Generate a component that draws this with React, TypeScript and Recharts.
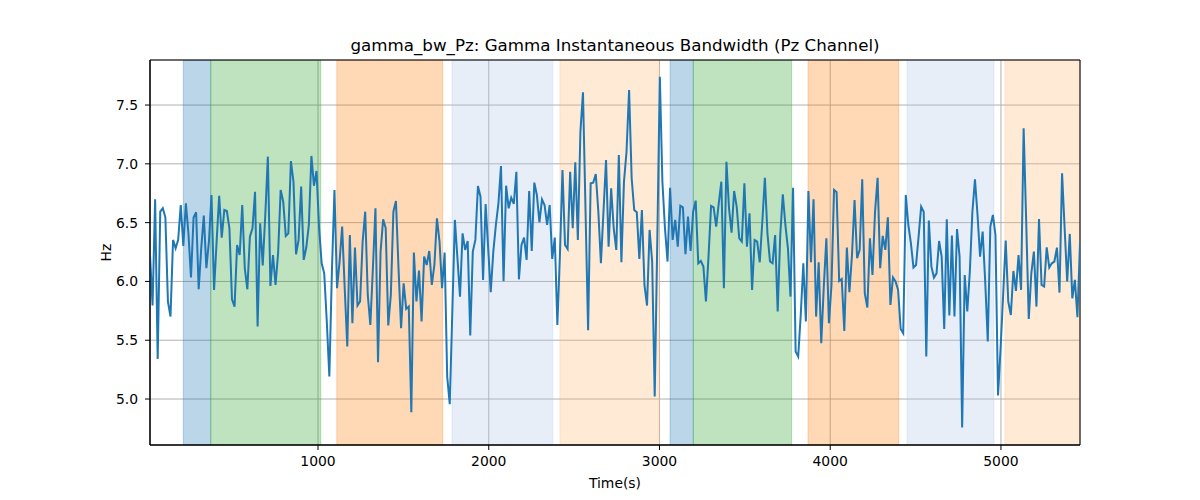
import {
  ComposedChart,
  Line,
  XAxis,
  YAxis,
  CartesianGrid,
  ReferenceArea,
} from "recharts";

// sampling grid of the trace (seconds)
const TIME_START = 16;
const TIME_END = 5463;

// gamma instantaneous bandwidth, Pz channel (Hz)
const bandwidthHz = [
  6.225, 5.795, 6.698, 5.341, 6.593, 6.622, 6.545, 5.829, 5.701, 6.353,
  6.282, 6.353, 6.65, 6.302, 6.664, 6.409, 6.033, 6.543, 6.588, 5.933,
  6.282, 6.56, 6.112, 6.339, 6.735, 5.928, 6.339, 6.729, 6.373, 6.608,
  6.599, 6.452, 5.848, 5.786, 6.31, 6.225, 6.65, 6.112, 5.933, 6.381,
  6.452, 6.763, 5.616, 6.494, 6.135, 6.565, 7.061, 5.962, 6.225, 5.97,
  6.239, 6.778, 6.678, 6.387, 6.409, 7.024, 6.848, 6.231, 6.353, 6.806,
  6.183,
  6.288, 6.48, 7.067, 6.814, 6.939, 6.452, 6.154, 6.069, 5.659, 5.191,
  6.084, 6.778, 5.942, 6.169, 6.466, 5.942, 5.446, 6.395, 5.644, 6.288,
  5.795, 5.829, 6.339, 6.593, 5.885, 5.63, 6.112, 6.622, 5.313, 6.254,
  6.528, 6.452, 5.625, 5.885, 6.593, 6.684, 6.112, 5.602, 5.984, 5.766,
  5.786, 4.888, 6.245, 5.829, 6.092, 5.659, 6.211, 6.14, 6.259, 5.97,
  6.14, 6.537, 6.339, 5.942, 6.245, 5.191, 4.956, 5.744, 6.523, 6.197,
  5.871,
  6.409, 6.268, 6.344, 5.54, 6.254, 6.353, 6.812, 6.721, 6.013, 6.659,
  6.28, 5.908, 6.254, 6.48, 6.664, 6.982, 6.001, 6.814, 6.622, 6.712,
  6.659, 6.933, 6.018, 6.31, 6.373, 6.183, 6.769, 6.259, 6.84, 6.735,
  6.503, 6.698, 6.65, 6.48, 6.65, 6.191, 6.373, 5.63, 6.225, 6.948,
  6.31, 6.276, 6.933, 6.452, 7.013, 6.353, 7.273, 7.608, 6.6, 5.585,
  6.834, 6.84, 6.914, 6.593, 6.154, 6.593, 7.033, 6.296, 6.792, 6.45,
  6.268, 7.075, 6.163, 6.848, 7.103, 7.627, 6.877, 6.608, 6.588, 6.191,
  6.608, 5.97, 5.795, 6.438, 6.169, 5.021, 6.339, 7.741, 6.848, 6.452,
  6.169, 6.797, 6.353, 6.523, 6.296, 6.644, 6.63, 6.231, 6.551, 6.259,
  6.593, 6.687, 6.154, 6.174, 6.126, 5.829, 6.211, 6.642, 6.63, 6.466,
  6.664, 6.848, 5.942, 7.018, 6.622, 6.415, 6.769, 6.636, 6.367, 6.339,
  6.834, 6.296, 6.579, 5.928, 6.353, 6.339, 6.163, 6.508, 6.882, 6.409,
  6.169,
  6.154, 6.395, 5.744, 6.395, 6.741, 6.48, 6.282, 5.871, 6.797, 5.404,
  5.361, 5.715, 6.154, 5.659, 6.769, 6.163, 6.698, 5.701, 6.163, 5.475,
  5.956, 6.367, 5.644, 5.97, 6.778, 6.758, 6.004, 6.021, 5.579, 6.288,
  5.908, 6.225, 6.693, 6.197, 6.268, 6.868, 5.899, 5.778, 6.367, 6.055,
  6.593, 6.882, 6.112, 6.387, 6.268, 6.545, 5.8, 6.033, 5.999, 5.928,
  5.596, 5.56, 6.735, 6.48, 6.324, 6.118, 6.14, 6.381, 6.636, 6.593,
  5.361, 6.517, 6.126, 6.033, 6.069, 6.344, 6.211, 5.596, 6.528, 5.71,
  6.39, 5.701, 6.446, 6.211, 4.758, 6.055, 5.744, 6.084, 6.593, 6.868,
  6.565, 6.211, 6.424, 5.999, 5.489, 6.466, 6.565, 6.395, 5.03, 5.432,
  5.885, 6.347, 5.829, 5.715, 6.089, 5.919, 6.225, 5.928, 7.302, 6.508,
  5.681, 6.069, 6.254, 5.786, 6.531, 5.97, 5.956, 6.29, 6.118, 6.154,
  6.169, 6.288, 5.905, 6.919, 6.452, 5.999, 6.404, 5.857, 6.013, 5.695,
  6.324,
];

// shaded segments (seconds) and their kind
const segmentStart = [211, 372, 1110, 1785, 2417, 3062, 3198, 3870, 4450, 5023];
const segmentEnd = [372, 1016, 1730, 2375, 3000, 3198, 3774, 4401, 4959, 5463];
const segmentKind = [
  "blue", "green", "orange", "lightblue", "lightorange",
  "blue", "green", "orange", "lightblue", "lightorange",
];

const xTicks = [1000, 2000, 3000, 4000, 5000];
const yTicks = [5.0, 5.5, 6.0, 6.5, 7.0, 7.5];
const Y_MIN = 4.609;
const Y_MAX = 7.883;

const SEGMENT_COLORS: Record<string, string> = {
  blue: "#1f77b4",
  green: "#2ca02c",
  orange: "#ff7f0e",
  lightblue: "#aec7e8",
  lightorange: "#ffbb78",
};

const FONT = "'DejaVu Sans', sans-serif";

const step = (TIME_END - TIME_START) / (bandwidthHz.length - 1);
const data = bandwidthHz.map((hz, i) => ({ t: TIME_START + i * step, hz }));

export default function App() {
  return (
    <div
      style={{
        position: "absolute",
        left: 0,
        top: 0,
        width: 1200,
        height: 500,
        background: "#fff",
        fontFamily: FONT,
      }}
    >
      <div
        style={{
          position: "absolute",
          left: 150,
          top: 35,
          width: 930,
          textAlign: "center",
          fontSize: 16.7,
          color: "#000",
          whiteSpace: "nowrap",
        }}
      >
        gamma_bw_Pz: Gamma Instantaneous Bandwidth (Pz Channel)
      </div>
      <ComposedChart
        width={1200}
        height={500}
        data={data}
        margin={{ top: 60, right: 120, bottom: 0, left: 0 }}
      >
        {segmentStart.map((s, i) => (
          <ReferenceArea
            key={i}
            x1={s}
            x2={segmentEnd[i]}
            y1={Y_MIN}
            y2={Y_MAX}
            fill={SEGMENT_COLORS[segmentKind[i]]}
            fillOpacity={0.3}
            stroke={SEGMENT_COLORS[segmentKind[i]]}
            strokeOpacity={0.3}
            ifOverflow="hidden"
          />
        ))}
        <CartesianGrid stroke="#b0b0b0" strokeWidth={1} />
        <XAxis
          dataKey="t"
          type="number"
          domain={[TIME_START, TIME_END]}
          ticks={xTicks}
          allowDataOverflow
          height={55}
          tickSize={5}
          tickMargin={6}
          stroke="#000"
          tick={{ fill: "#000", fontSize: 13.9, fontFamily: FONT }}
          label={{
            value: "Time(s)",
            position: "insideBottom",
            offset: 12,
            style: { fill: "#000", fontSize: 13.9, fontFamily: FONT },
          }}
        />
        <YAxis
          type="number"
          domain={[Y_MIN, Y_MAX]}
          ticks={yTicks}
          allowDataOverflow
          width={150}
          tickSize={5}
          tickMargin={7}
          stroke="#000"
          tickFormatter={(v: number) => v.toFixed(1)}
          tick={{ fill: "#000", fontSize: 13.9, fontFamily: FONT }}
          label={{
            value: "Hz",
            angle: -90,
            position: "insideLeft",
            offset: 106,
            style: { fill: "#000", fontSize: 13.9, fontFamily: FONT, textAnchor: "middle" },
          }}
        />
        <Line
          type="linear"
          dataKey="hz"
          stroke="#1f77b4"
          strokeWidth={2}
          dot={false}
          isAnimationActive={false}
        />
        <ReferenceArea
          x1={TIME_START}
          x2={TIME_END}
          y1={Y_MIN}
          y2={Y_MAX}
          fill="none"
          stroke="#000"
          strokeWidth={1}
        />
      </ComposedChart>
    </div>
  );
}
